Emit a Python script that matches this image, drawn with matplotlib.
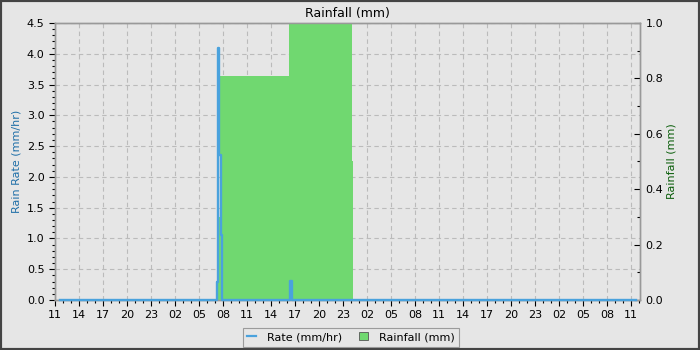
import matplotlib
matplotlib.use("Agg")
import matplotlib.pyplot as plt
import numpy as np
from matplotlib.ticker import FixedLocator, MultipleLocator
from matplotlib.patches import Rectangle
from matplotlib.lines import Line2D
from matplotlib.patches import Patch

# ---- data (hours since 11:00 on day 1) ----
x_tick_labels = ["11", "14", "17", "20", "23", "02", "05", "08",
                 "11", "14", "17", "20", "23", "02", "05", "08",
                 "11", "14", "17", "20", "23", "02", "05", "08", "11"]
x_tick_hours = list(range(0, 73, 3))

rate_times = [0.6, 20.2, 20.25, 20.42, 20.5, 20.72, 20.9, 29.36, 29.6, 72.6]
rate_values = [0.0, 0.0, 0.3, 4.1, 2.35, 1.05, 0.0, 0.31, 0.0, 0.0]

rain_edges = [20.25, 20.62, 29.25, 37.12, 37.25]
rain_values = [0.3, 0.81, 1.0, 0.5]

bg = "#e6e6e6"
blue = "#4aa2dd"
green = "#70d870"
spine_col = "#999999"

fig = plt.figure(figsize=(7, 3.5), dpi=100, facecolor=bg)
ax = fig.add_axes([55/700, 1-300/350, 585/700, 277/350])
ax.set_facecolor(bg)
ax2 = ax.twinx()
ax2.patch.set_visible(False)

# grid on the base axes
ax.set_axisbelow(True)
ax.grid(True, which="major", color="#bbbbbb", linestyle=(0, (4, 3)), linewidth=0.8)

# rainfall bars on the twin axes
edges = np.array(rain_edges)
ax2.bar(edges[:-1], rain_values, width=np.diff(edges), align="edge",
        color=green, linewidth=0, zorder=2)

# rate line on top, drawn in the left-axis coordinates
ax2.plot(rate_times, rate_values, drawstyle="steps-post", color=blue,
         linewidth=1.7, transform=ax.transData, zorder=3, clip_on=False)

ax.set_xlim(0, 73.125)
ax2.set_xlim(0, 73.125)
ax.set_ylim(0, 4.5)
ax2.set_ylim(0, 1.0)

ax.xaxis.set_major_locator(FixedLocator(x_tick_hours))
ax.set_xticklabels(x_tick_labels)
ax.xaxis.set_minor_locator(MultipleLocator(1))
ax.yaxis.set_major_locator(MultipleLocator(0.5))
ax.yaxis.set_minor_locator(MultipleLocator(0.1))
ax2.yaxis.set_major_locator(MultipleLocator(0.2))
ax2.yaxis.set_minor_locator(MultipleLocator(0.1))

ax.tick_params(axis="both", which="major", direction="out", length=4, labelsize=8, width=0.8)
ax.tick_params(axis="both", which="minor", direction="out", length=2.5, width=0.8)
ax2.tick_params(axis="y", which="major", direction="in", length=4, labelsize=8, width=0.8, pad=4)
ax2.tick_params(axis="y", which="minor", direction="in", length=2.5, width=0.8)
ax.yaxis.set_major_formatter(matplotlib.ticker.FormatStrFormatter("%.1f"))
ax2.yaxis.set_major_formatter(matplotlib.ticker.FormatStrFormatter("%.1f"))

for a in (ax, ax2):
    for s in a.spines.values():
        s.set_color(spine_col)
        s.set_linewidth(1.0)

ax.set_ylabel("Rain Rate (mm/hr)", color="#1f6fa8", fontsize=8, labelpad=4)
ax2.set_ylabel("Rainfall (mm)", color="#0b5e0b", fontsize=8, labelpad=2)
ax.set_title("Rainfall (mm)", fontsize=9, pad=4)

handles = [Line2D([0], [0], color=blue, linewidth=1.6),
           Patch(facecolor=green, edgecolor="#555555", linewidth=0.6)]
leg = fig.legend(handles, ["Rate (mm/hr)", "Rainfall (mm)"], loc="center",
                 bbox_to_anchor=(351/700, 1-337/350), ncol=2, fontsize=8,
                 frameon=True, fancybox=False, handlelength=0.8, handleheight=0.8,
                 columnspacing=1.5, handletextpad=1.0, borderpad=0.4)
leg.get_frame().set_facecolor(bg)
leg.get_frame().set_edgecolor("#888888")
leg.get_frame().set_linewidth(0.8)

fig.patches.append(Rectangle((0, 0), 1, 1, transform=fig.transFigure,
                             fill=False, edgecolor="#444444", linewidth=3))

fig.savefig("out.png", dpi=100, facecolor=bg)
